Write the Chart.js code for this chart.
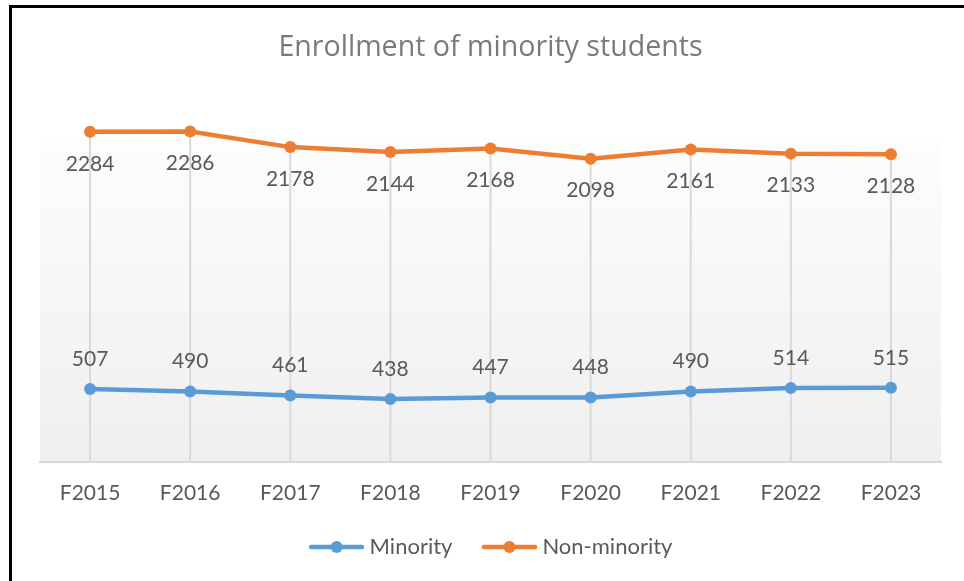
<!DOCTYPE html>
<html><head><meta charset="utf-8">
<script src="https://cdn.jsdelivr.net/npm/chart.js@4/dist/chart.umd.min.js"></script>
<style>
html,body{margin:0;padding:0;background:#fff;}
#wrap{position:relative;width:964px;height:581px;overflow:hidden;}
#frame{position:absolute;left:9px;top:5px;width:2000px;height:2000px;border-top:3px solid #000;border-left:3px solid #000;}
canvas{position:absolute;left:0;top:0;}
</style></head>
<body><div id="wrap"><div id="frame"></div><canvas id="c" width="964" height="581"></canvas></div>
<script>
const categories = ['F2015','F2016','F2017','F2018','F2019','F2020','F2021','F2022','F2023'];
const minority = [507,490,461,438,447,448,490,514,515];
const nonMinority = [2284,2286,2178,2144,2168,2098,2161,2133,2128];
const seriesNames = ['Minority','Non-minority'];
const yMin = 0, yMax = 2500;

const BLUE = '#5b9bd5', ORANGE = '#ed7d31', TXT = '#595959';
const FONT = 'Lato';

function legendIcon(color){
  const c = document.createElement('canvas');
  c.width = 61; c.height = 14;
  const g = c.getContext('2d');
  g.strokeStyle = color; g.lineWidth = 4.5; g.lineCap = 'round';
  g.beginPath(); g.moveTo(8, 7); g.lineTo(59, 7); g.stroke();
  g.fillStyle = color;
  g.beginPath(); g.arc(33.5, 7, 6, 0, Math.PI*2); g.fill();
  return c;
}
const icons = [legendIcon(BLUE), legendIcon(ORANGE)];

const bgPlugin = {
  id: 'bg',
  beforeDraw(chart){
    const {ctx, chartArea:a} = chart;
    const gr = ctx.createLinearGradient(0, a.top, 0, a.bottom);
    gr.addColorStop(0, '#ffffff');
    gr.addColorStop(0.104, '#ffffff');
    gr.addColorStop(0.106, '#fdfdfd');
    gr.addColorStop(1, '#efefef');
    ctx.save(); ctx.fillStyle = gr;
    ctx.fillRect(a.left, a.top, a.right - a.left, a.bottom - a.top);
    ctx.restore();
  }
};

const dropPlugin = {
  id: 'drop',
  beforeDatasetsDraw(chart){
    const {ctx, chartArea:a, scales} = chart;
    ctx.save();
    ctx.strokeStyle = '#d9d9d9'; ctx.lineWidth = 2;
    categories.forEach((c, i) => {
      const x = scales.x.getPixelForValue(i);
      const top = scales.y.getPixelForValue(Math.max(minority[i], nonMinority[i]));
      ctx.beginPath(); ctx.moveTo(x, top); ctx.lineTo(x, a.bottom); ctx.stroke();
    });
    ctx.restore();
  }
};

const labelPlugin = {
  id: 'labels',
  afterDatasetsDraw(chart){
    const {ctx} = chart;
    ctx.save();
    ctx.font = '21px ' + FONT;
    ctx.fillStyle = TXT;
    ctx.textAlign = 'center';
    ctx.textBaseline = 'middle';
    chart.data.datasets.forEach((ds, di) => {
      const meta = chart.getDatasetMeta(di);
      meta.data.forEach((pt, i) => {
        const dy = di === 0 ? -30 : 32;
        ctx.fillText(String(ds.data[i]), pt.x, pt.y + dy);
      });
    });
    ctx.restore();
  }
};

new Chart(document.getElementById('c'), {
  type: 'line',
  data: {
    labels: categories,
    datasets: [
      {label: seriesNames[0], data: minority, borderColor: BLUE, backgroundColor: BLUE,
       borderWidth: 4.5, pointRadius: 6, pointBackgroundColor: BLUE, pointBorderWidth: 0, tension: 0},
      {label: seriesNames[1], data: nonMinority, borderColor: ORANGE, backgroundColor: ORANGE,
       borderWidth: 4.5, pointRadius: 6, pointBackgroundColor: ORANGE, pointBorderWidth: 0, tension: 0}
    ]
  },
  options: {
    responsive: false,
    animation: false,
    events: [],
    layout: {padding: {left: 40, right: 23, top: 0, bottom: 13}},
    scales: {
      x: {
        offset: true,
        grid: {display: false, drawTicks: false},
        border: {display: true, color: '#d9d9d9', width: 2},
        ticks: {color: TXT, font: {family: FONT, size: 21}, padding: 18, maxRotation: 0},
        afterFit(scale){ scale.height = scale.height - 16.5; }
      },
      y: {display: false, min: yMin, max: yMax}
    },
    plugins: {
      title: {display: true, text: 'Enrollment of minority students', color: '#7a7a7a',
        font: {family: 'Open Sans', size: 28.6, weight: 'normal'}, padding: {top: 30.8, bottom: 35.4}},
      legend: {
        position: 'bottom',
        labels: {
          color: TXT, font: {family: FONT, size: 22}, usePointStyle: true, pointStyleWidth: 50,
          padding: 29,
          generateLabels(chart){
            return chart.data.datasets.map((d, i) => ({
              text: d.label, fillStyle: d.borderColor, strokeStyle: d.borderColor,
              pointStyle: icons[i], lineWidth: 0, datasetIndex: i, fontColor: TXT
            }));
          }
        }
      },
      tooltip: {enabled: false}
    }
  },
  plugins: [bgPlugin, dropPlugin, labelPlugin]
});
</script>
</body></html>
